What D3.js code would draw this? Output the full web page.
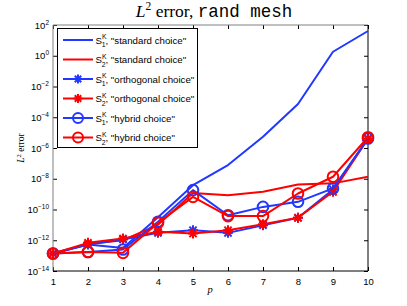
<!DOCTYPE html>
<html><head><meta charset="utf-8">
<script src="https://cdn.jsdelivr.net/npm/d3@7"></script>
<style>body{margin:0;background:#fff}svg{display:block}</style>
</head><body>
<svg id="c" width="407" height="306"></svg>
<script>
const pValues = [1,2,3,4,5,6,7,8,9,10];
const yTickExps = [2,0,-2,-4,-6,-8,-10,-12,-14];
// log10 of L2 error
const s1Standard   = [-12.86,-12.28,-12.5,-10.5,-8.42,-7.11,-5.27,-3.14,0.26,1.61];
const s2Standard   = [-12.86,-12.25,-12.0,-11.0,-8.92,-9.07,-8.85,-8.37,-8.3,-7.87];
const s1Orthogonal = [-12.86,-12.28,-11.95,-11.52,-11.35,-11.52,-11.02,-10.54,-8.70,-5.38];
const s2Orthogonal = [-12.86,-12.17,-11.89,-11.45,-11.56,-11.35,-10.96,-10.54,-8.85,-5.40];
const s1Hybrid     = [-12.86,-12.76,-12.6,-10.8,-8.74,-10.37,-9.83,-9.5,-8.63,-5.38];
const s2Hybrid     = [-12.86,-12.76,-12.82,-10.87,-9.18,-10.43,-10.43,-8.96,-7.87,-5.30];
const legendNames = ['"standard choice"','"standard choice"','"orthogonal choice"','"orthogonal choice"','"hybrid choice"','"hybrid choice"'];
const legendSubs = ['1','2','1','2','1','2'];

const BLUE = "#2038ff", RED = "#ff0000";
const series = [
  {v:s1Standard, c:BLUE, m:null},
  {v:s2Standard, c:RED, m:null},
  {v:s1Orthogonal, c:BLUE, m:"star"},
  {v:s2Orthogonal, c:RED, m:"star"},
  {v:s1Hybrid, c:BLUE, m:"circle"},
  {v:s2Hybrid, c:RED, m:"circle"},
];

const svg = d3.select("#c");
const L=53, R=368, T=25, B=271;
const x = d3.scaleLinear().domain([1,10]).range([L,R]);
const y = d3.scaleLinear().domain([-14,2]).range([B,T]);

// axes
const xAxisB = d3.axisBottom(x).tickValues(pValues).tickSize(-4).tickPadding(7).tickFormat(d3.format("d"));
const gxb = svg.append("g").attr("transform",`translate(0,${B})`).call(xAxisB);
gxb.select(".domain").remove();
gxb.selectAll("text").attr("font-family","Liberation Sans, Arial, sans-serif").attr("font-size",9.5).attr("fill","#000");
gxb.selectAll("line").attr("stroke","#000");
const gxt = svg.append("g").attr("transform",`translate(0,${T})`).call(d3.axisTop(x).tickValues(pValues).tickSize(-4).tickFormat(""));
gxt.select(".domain").remove();
gxt.selectAll("line").attr("stroke","#000");

const yAxisL = d3.axisLeft(y).tickValues(yTickExps).tickSize(-4).tickPadding(6).tickFormat("");
const gyl = svg.append("g").attr("transform",`translate(${L},0)`).call(yAxisL);
gyl.select(".domain").remove();
gyl.selectAll("line").attr("stroke","#000");
const gyr = svg.append("g").attr("transform",`translate(${R},0)`).call(d3.axisRight(y).tickValues(yTickExps).tickSize(-4).tickFormat(""));
gyr.select(".domain").remove();
gyr.selectAll("line").attr("stroke","#000");

// y tick labels 10^n
yTickExps.forEach(e=>{
  const t = svg.append("text").attr("x",L-4).attr("y",y(e)+3.5).attr("text-anchor","end")
    .attr("font-family","Liberation Sans, Arial, sans-serif").attr("font-size",9.5).attr("fill","#000");
  t.append("tspan").text("10");
  t.append("tspan").attr("dy",-4).attr("font-size",6.5).text(String(e).replace("-","\u2212"));
});

// frame
svg.append("line").attr("x1",L).attr("x2",L).attr("y1",T).attr("y2",B).attr("stroke","#808080").attr("stroke-width",1);
svg.append("line").attr("x1",L).attr("x2",R).attr("y1",T).attr("y2",T).attr("stroke","#808080").attr("stroke-width",1);
svg.append("line").attr("x1",R).attr("x2",R).attr("y1",T).attr("y2",B).attr("stroke","#000").attr("stroke-width",1);
svg.append("line").attr("x1",L).attr("x2",R).attr("y1",B).attr("y2",B).attr("stroke","#000").attr("stroke-width",1);

const line = d3.line().x((d,i)=>x(pValues[i])).y(d=>y(d));
const plot = svg.append("g");

function drawMarker(g, m, cx, cy, c, s){
  if(m==="circle"){
    g.append("circle").attr("cx",cx).attr("cy",cy).attr("r",s).attr("fill","none").attr("stroke",c).attr("stroke-width",2);
  } else if(m==="star"){
    const r=s, d=s*0.72;
    const p = `M${cx-r},${cy}L${cx+r},${cy}M${cx},${cy-r}L${cx},${cy+r}M${cx-d},${cy-d}L${cx+d},${cy+d}M${cx-d},${cy+d}L${cx+d},${cy-d}`;
    g.append("path").attr("d",p).attr("stroke",c).attr("stroke-width",2).attr("fill","none");
  }
}

series.forEach(s=>{
  plot.append("path").datum(s.v).attr("d",line).attr("fill","none").attr("stroke",s.c).attr("stroke-width",2).attr("stroke-linejoin","round");
  if(s.m){
    s.v.forEach((v,i)=>drawMarker(plot, s.m, x(pValues[i]), y(v), s.c, s.m==="circle"?5.3:5));
  }
});

// legend
const lg = svg.append("g");
lg.append("rect").attr("x",57.5).attr("y",28.5).attr("width",140).attr("height",119).attr("fill","#fff").attr("stroke","#000").attr("stroke-width",1);
series.forEach((s,i)=>{
  const yy = 40 + i*19.5;
  lg.append("line").attr("x1",63).attr("x2",93).attr("y1",yy).attr("y2",yy).attr("stroke",s.c).attr("stroke-width",2);
  if(s.m) drawMarker(lg, s.m, 78, yy, s.c, s.m==="circle"?5:4.5);
  const t = lg.append("text").attr("x",95.5).attr("y",yy+3.5).attr("font-family","Liberation Sans, Arial, sans-serif").attr("font-size",9.7).attr("fill","#000");
  t.append("tspan").text("S");
  t.append("tspan").attr("font-size",6.8).attr("dy",-4.5).text("K");
  t.append("tspan").attr("font-size",6.8).attr("dx",-4.8).attr("dy",8).text(legendSubs[i]);
  t.append("tspan").attr("dy",-3.5).text(", "+legendNames[i]);
});

// title
const title = svg.append("text").attr("x",214).attr("y",17).attr("text-anchor","middle").attr("font-size",17.5).attr("fill","#000");
title.append("tspan").attr("font-family","Liberation Serif, Times New Roman, serif").attr("font-style","italic").text("L");
title.append("tspan").attr("font-family","Liberation Serif, serif").attr("font-size",11.5).attr("dy",-7).text("2");
title.append("tspan").attr("font-family","Liberation Serif, serif").attr("dy",7).text(" error, ");
title.append("tspan").attr("font-family","Liberation Mono, DejaVu Sans Mono, monospace").text("rand mesh");

// y label
const yl = svg.append("text").attr("transform","translate(24,148) rotate(-90)").attr("text-anchor","middle").attr("font-size",9.5).attr("fill","#000").attr("font-family","Liberation Serif, serif");
yl.append("tspan").attr("font-style","italic").text("L");
yl.append("tspan").attr("font-size",6.5).attr("dy",-3.5).text("2");
yl.append("tspan").attr("dy",3.5).text(" error");

// x label
svg.append("text").attr("x",210).attr("y",293).attr("text-anchor","middle").attr("font-size",10.5).attr("font-style","italic").attr("font-family","Liberation Serif, serif").text("p");
</script>
</body></html>
